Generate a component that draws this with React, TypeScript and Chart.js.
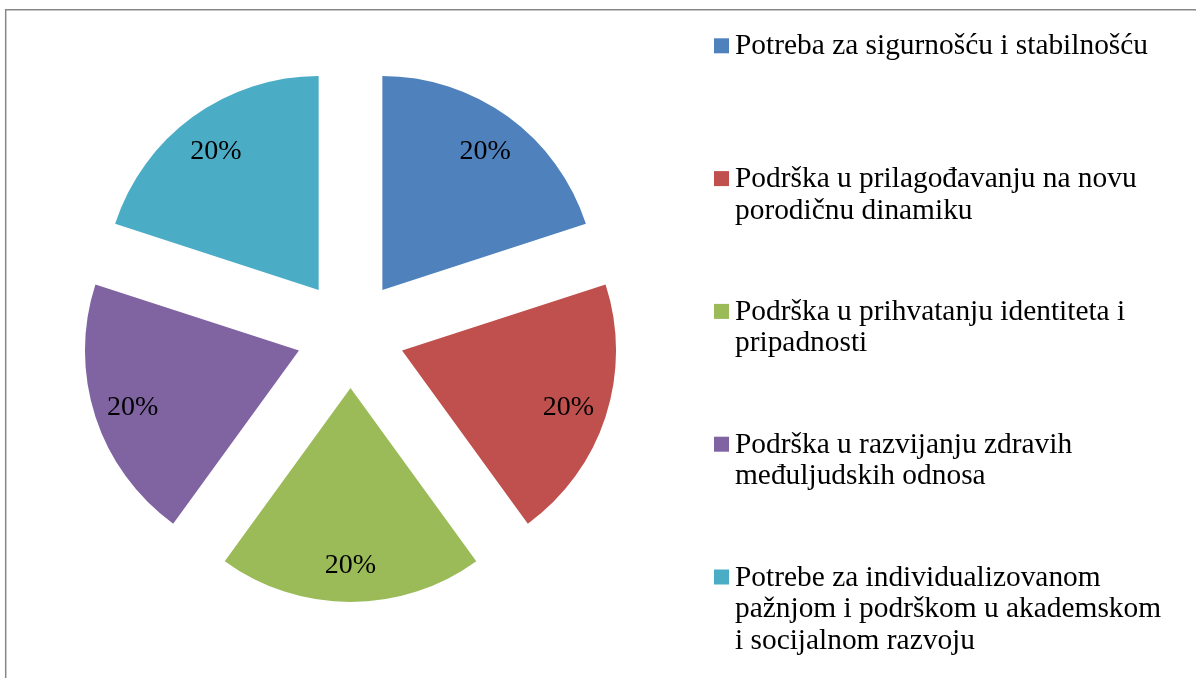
import React, { useEffect, useRef } from 'react';
import { Chart, registerables } from 'chart.js';

Chart.register(...registerables);

// ---- data ----
const categories: string[] = [
  'Potreba za sigurnošću i stabilnošću',
  'Podrška u prilagođavanju na novu porodičnu dinamiku',
  'Podrška u prihvatanju identiteta i pripadnosti',
  'Podrška u razvijanju zdravih međuljudskih odnosa',
  'Potrebe za individualizovanom pažnjom i podrškom u akademskom i socijalnom razvoju',
];
const legendLines: string[][] = [
  ['Potreba za sigurnošću i stabilnošću'],
  ['Podrška u prilagođavanju na novu', 'porodičnu dinamiku'],
  ['Podrška u prihvatanju identiteta i', 'pripadnosti'],
  ['Podrška u razvijanju zdravih', 'međuljudskih odnosa'],
  ['Potrebe za individualizovanom', 'pažnjom i podrškom u akademskom', 'i socijalnom razvoju'],
];
const values: number[] = [20, 20, 20, 20, 20];
const colors: string[] = ['#4F81BD', '#C0504D', '#9BBB59', '#8064A2', '#4BACC6'];

// ---- styles ----
const EXPLODE = 54.2;
const LABEL_POS = 0.817;
const LABEL_DY = 3;
const SERIF = '"Liberation Serif", "Times New Roman", serif';

const piePlugin = {
  id: 'explodedPie',
  beforeDraw(chart: any) {
    const ctx = chart.ctx;
    ctx.save();
    ctx.strokeStyle = '#878787';
    ctx.lineWidth = 1.5;
    ctx.beginPath();
    ctx.moveTo(5.7, 700);
    ctx.lineTo(5.7, 9.7);
    ctx.lineTo(1300, 9.7);
    ctx.stroke();
    ctx.restore();
  },
  beforeDatasetDraw(chart: any, args: any) {
    const ctx = chart.ctx;
    args.meta.data.forEach((arc: any) => {
      const mid = (arc.startAngle + arc.endAngle) / 2;
      ctx.save();
      ctx.translate(Math.cos(mid) * EXPLODE, Math.sin(mid) * EXPLODE);
      arc.draw(ctx);
      ctx.restore();
    });
    return false;
  },
  afterDatasetsDraw(chart: any) {
    const ctx = chart.ctx;
    const meta = chart.getDatasetMeta(0);
    const data = chart.data.datasets[0].data as number[];
    const total = data.reduce((a, b) => a + b, 0);
    ctx.save();
    ctx.font = `28px ${SERIF}`;
    ctx.fillStyle = '#000';
    ctx.textAlign = 'center';
    ctx.textBaseline = 'middle';
    meta.data.forEach((arc: any, i: number) => {
      const mid = (arc.startAngle + arc.endAngle) / 2;
      const d = EXPLODE + arc.outerRadius * LABEL_POS;
      const x = arc.x + Math.cos(mid) * d;
      const y = arc.y + Math.sin(mid) * d + LABEL_DY;
      ctx.fillText(Math.round((data[i] / total) * 100) + '%', x, y);
    });
    ctx.restore();
  },
  afterDraw(chart: any) {
    const ctx = chart.ctx;
    ctx.save();
    ctx.font = `29.4px ${SERIF}`;
    ctx.textAlign = 'left';
    ctx.textBaseline = 'alphabetic';
    legendLines.forEach((lines, i) => {
      const base = 54.3 + 132.8 * i;
      ctx.fillStyle = colors[i];
      ctx.fillRect(714, base - 16, 15, 15);
      ctx.fillStyle = '#000';
      lines.forEach((t, j) => ctx.fillText(t, 735, base + j * 31.5));
    });
    ctx.restore();
  },
};

export default function App() {
  const ref = useRef<HTMLCanvasElement>(null);
  useEffect(() => {
    const chart = new Chart(ref.current as HTMLCanvasElement, {
      type: 'pie',
      data: {
        labels: categories,
        datasets: [{ data: values, backgroundColor: colors, borderWidth: 0 }],
      },
      options: {
        responsive: false,
        animation: false,
        radius: 214,
        layout: { padding: { left: 0, right: 495, top: 0, bottom: 10.4 } },
        plugins: { legend: { display: false }, tooltip: { enabled: false } },
        events: [],
      } as any,
      plugins: [piePlugin],
    });
    return () => chart.destroy();
  }, []);
  return (
    <div style={{ position: 'absolute', left: 0, top: 0, width: 1196, height: 678, background: '#fff' }}>
      <canvas ref={ref} width={1196} height={678} style={{ display: 'block', width: 1196, height: 678 }} />
    </div>
  );
}
